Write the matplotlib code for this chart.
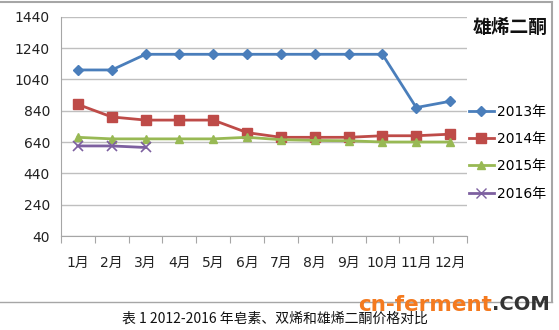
import matplotlib
matplotlib.use("Agg")
import matplotlib.pyplot as plt
from matplotlib.lines import Line2D

plt.rcParams['font.family'] = ['DejaVu Sans', 'Noto Sans CJK SC']

months = ["1月", "2月", "3月", "4月", "5月", "6月", "7月", "8月", "9月", "10月", "11月", "12月"]
s2013 = [1100, 1100, 1200, 1200, 1200, 1200, 1200, 1200, 1200, 1200, 860, 900]
s2014 = [880, 800, 780, 780, 780, 700, 670, 670, 670, 680, 680, 690]
s2015 = [670, 660, 660, 660, 660, 670, 655, 650, 648, 640, 640, 640]
s2016 = [615, 615, 605]
series_names = ["2013年", "2014年", "2015年", "2016年"]
yticks = [40, 240, 440, 640, 840, 1040, 1240, 1440]
title = "雄烯二酮"
caption = "表 1 2012-2016 年皂素、双烯和雄烯二酮价格对比"

colors = ["#4A7EBB", "#BE4B48", "#98B954", "#7D60A0"]
markers = ["D", "s", "^", "x"]
msizes = [5, 7, 6, 7]

fig = plt.figure(figsize=(5.59, 3.30), dpi=100)
ax = fig.add_axes([61/559, 1-236/330, (467-61)/559, (236-16.7)/330])

x = list(range(len(months)))
for data, c, m, ms in zip([s2013, s2014, s2015, s2016], colors, markers, msizes):
    ax.plot(x[:len(data)], data, color=c, lw=2, marker=m, markersize=ms,
            markeredgecolor=c, markerfacecolor=c, markeredgewidth=1 if m != "x" else 1.2)

ax.set_xlim(-0.5, len(months) - 0.5)
ax.set_ylim(40, 1440)
ax.set_yticks(yticks)
ax.set_yticklabels([str(v) for v in yticks], fontsize=10, color="#222222")
ax.yaxis.grid(True, color="#BFBFBF", lw=1)
ax.set_axisbelow(True)
ax.tick_params(axis='y', length=0, pad=8)

ax.set_xticks([i - 0.5 for i in range(len(months) + 1)])
ax.set_xticklabels([])
ax.set_xticks(x, minor=True)
ax.set_xticklabels(months, minor=True, fontsize=10, color="#222222",
                   family=['DejaVu Sans', 'Noto Sans CJK SC'])
ax.tick_params(axis='x', which='major', length=5, color="#A6A6A6", direction='out')
ax.tick_params(axis='x', which='minor', length=0, pad=14)

for s in ["top", "right"]:
    ax.spines[s].set_visible(False)
for s in ["left", "bottom"]:
    ax.spines[s].set_color("#A6A6A6")

# legend
handles = [Line2D([0], [0], color=c, lw=2, marker=m, markersize=ms,
                  markerfacecolor=c, markeredgecolor=c)
           for c, m, ms in zip(colors, markers, msizes)]
fig.legend(handles, series_names, loc='upper left', bbox_to_anchor=(462/559, 1-98/330),
           frameon=False, handlelength=1.8, labelspacing=0.95,
           handletextpad=0.25, borderpad=0,
           prop={'family': ['DejaVu Sans', 'Noto Sans CJK SC'], 'size': 10})

fig.text(473/559, 1-27/330, title, fontsize=13.5, fontweight='bold', va='center', ha='left',
         family=['Noto Sans CJK SC'], color="#111111")

# chart border
fig.add_artist(Line2D([0, 552/559], [1-2/330, 1-2/330], color="#A6A6A6", lw=1.5))
fig.add_artist(Line2D([552/559, 552/559], [1-2/330, 1-302/330], color="#A6A6A6", lw=1.5))
fig.add_artist(Line2D([0, 552/559], [1-302/330, 1-302/330], color="#A6A6A6", lw=1))

fig.text(275/559, 1-319/330, caption, fontsize=10, ha='center', va='center',
         family=['Noto Sans CJK SC', 'DejaVu Sans'], color="#111111")

# watermark
fig.text(492/559, 1-305/330, "cn-ferment", fontsize=15.5, fontweight='bold', color="#F47A1F",
         ha='right', va='center', zorder=5)
fig.text(492/559, 1-305/330, ".COM", fontsize=14, fontweight='bold', color="#333333",
         ha='left', va='center', zorder=5)

fig.savefig("out.png", dpi=100)
